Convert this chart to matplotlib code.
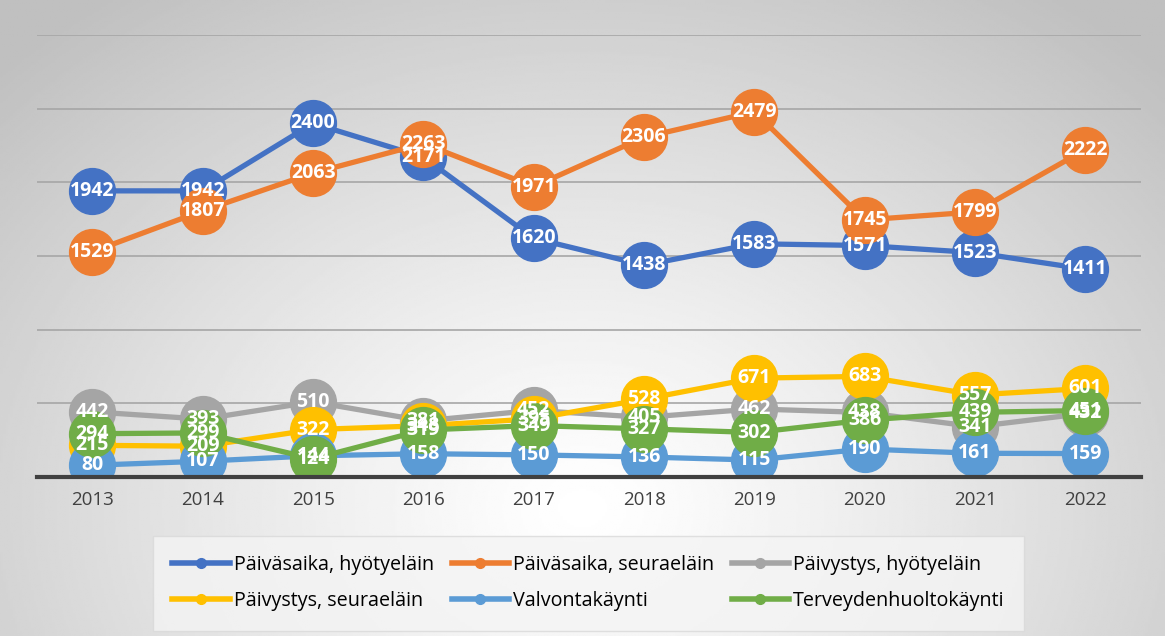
import matplotlib.pyplot as plt
import numpy as np

# data
years = ['2013', '2014', '2015', '2016', '2017', '2018', '2019', '2020', '2021', '2022']
paiva_hyoty = [1942, 1942, 2400, 2171, 1620, 1438, 1583, 1571, 1523, 1411]
paiva_seura = [1529, 1807, 2063, 2263, 1971, 2306, 2479, 1745, 1799, 2222]
paivystys_hyoty = [442, 393, 510, 381, 452, 405, 462, 438, 341, 432]
paivystys_seura = [215, 209, 322, 348, 395, 528, 671, 683, 557, 601]
valvonta = [80, 107, 144, 158, 150, 136, 115, 190, 161, 159]
terveys = [294, 299, 124, 319, 349, 327, 302, 386, 439, 451]

series = [
    ('Päiväsaika, hyötyeläin', paiva_hyoty, '#4472C4'),
    ('Päiväsaika, seuraeläin', paiva_seura, '#ED7D31'),
    ('Päivystys, hyötyeläin', paivystys_hyoty, '#A5A5A5'),
    ('Päivystys, seuraeläin', paivystys_seura, '#FFC000'),
    ('Valvontakäynti', valvonta, '#5B9BD5'),
    ('Terveydenhuoltokäynti', terveys, '#70AD47'),
]

plt.rcParams['font.family'] = ['Open Sans', 'DejaVu Sans']

fig = plt.figure(figsize=(11.65, 6.36), dpi=100)

# radial gradient background
bg = fig.add_axes([0, 0, 1, 1], zorder=-10)
yy, xx = np.mgrid[0:1:300j, 0:1:500j]
r = np.sqrt(((xx - 0.5) / 0.7) ** 2 + ((yy - 0.2) / 1.0) ** 2)
shade = 1.0 - 0.25 * np.clip(r, 0, 1) ** 1.2
bg.imshow(shade, cmap='gray', vmin=0, vmax=1, origin='lower', aspect='auto',
          extent=[0, 1, 0, 1])
bg.axis('off')

ax = fig.add_axes([0.032, 0.25, 0.947, 0.695])
ax.patch.set_alpha(0)
x = np.arange(len(years))

for name, vals, col in series:
    ax.plot(x, vals, color=col, lw=3.8, marker='o', ms=33, label=name,
            solid_capstyle='round', zorder=2)

for name, vals, col in series:
    for xi, v in zip(x, vals):
        ax.text(xi, v, str(v), ha='center', va='center', color='white',
                fontsize=14, fontweight='bold', zorder=5)

ax.set_ylim(0, 3000)
ax.set_xlim(-0.5, len(years) - 0.5)
ax.set_yticks([500, 1000, 1500, 2000, 2500, 3000])
ax.grid(axis='y', color='#a6a6a6', lw=1.2, zorder=0)
ax.set_axisbelow(True)
ax.tick_params(axis='y', left=False, labelleft=False)
ax.tick_params(axis='x', length=0, pad=10, labelsize=13.5, labelcolor='#404040')
ax.set_xticks(x)
ax.set_xticklabels(years)
for s in ['top', 'right', 'left']:
    ax.spines[s].set_visible(False)
ax.spines['bottom'].set_color('#404040')
ax.spines['bottom'].set_linewidth(3)

handles = []
for name, vals, col in series:
    h, = plt.plot([], [], color=col, lw=4, marker='o', ms=7, label=name)
    handles.append(h)
# legend fills by column, reorder so rows read left to right
order = [0, 3, 1, 4, 2, 5]
leg = fig.legend(handles=[handles[i] for i in order], loc='center',
                 bbox_to_anchor=(0.505, 0.083),
                 ncol=3, fontsize=14.2, frameon=True, handlelength=2.9,
                 columnspacing=0.9, handletextpad=0.2, labelspacing=0.8,
                 borderpad=0.7)
leg.get_frame().set_facecolor('#f4f4f4')
leg.get_frame().set_edgecolor('#d9d9d9')
leg.get_frame().set_boxstyle('square')
leg.get_frame().set_alpha(0.8)

plt.savefig('out.png', dpi=100)
